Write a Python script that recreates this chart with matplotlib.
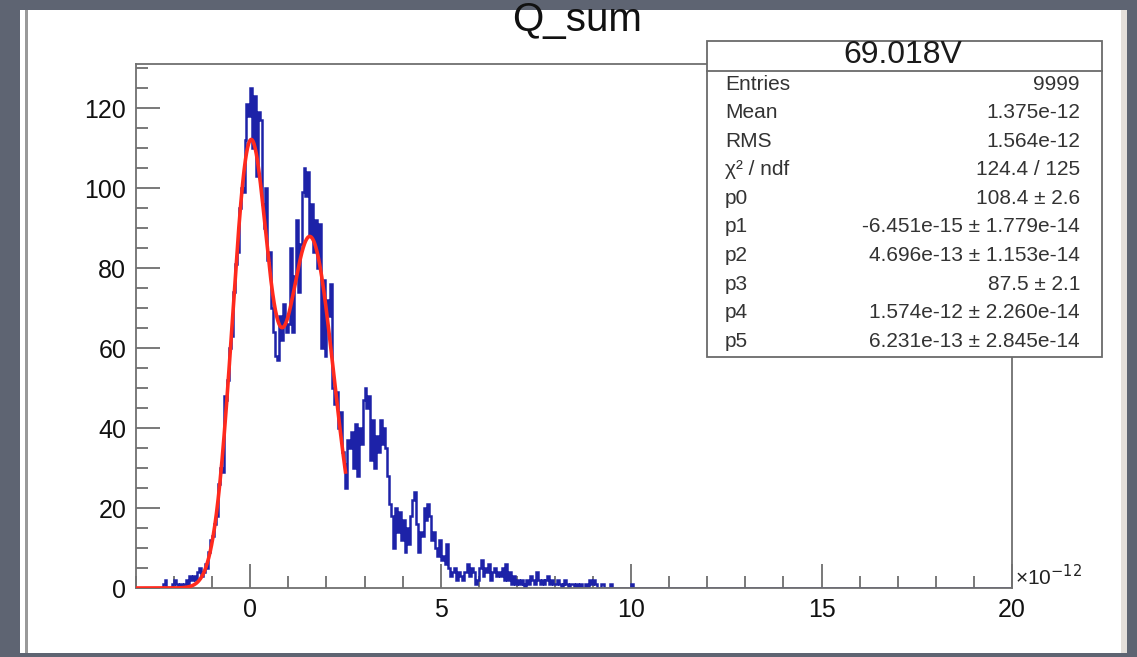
import numpy as np
import matplotlib
matplotlib.use("Agg")
import matplotlib.pyplot as plt
from matplotlib.patches import Rectangle
from matplotlib.ticker import MultipleLocator

plt.rcParams['font.family'] = ['Liberation Sans', 'DejaVu Sans']

W, H = 1137, 657

# histogram: bins of 0.05 (x 1e-12) from -3 to 20, counts
x_low, x_high, bin_w = -3.0, 20.0, 0.05
counts_read = (
    [0] * 10 +                                    # -3.0 .. -2.5
    [0, 0, 0, 0, 1, 2, 0, 0, 0, 1] +              # -2.5 .. -2.0
    [2, 1, 0, 1, 0, 1, 2, 1, 3, 2] +              # -2.0 .. -1.5
    [3, 2, 4, 5, 3, 4, 6, 5, 9, 12] +             # -1.5 .. -1.0
    [13, 16, 18, 26, 30, 29, 48, 47, 52, 60] +    # -1.0 .. -0.5
    [63, 74, 81, 84, 95, 100, 99, 112, 121, 118] +
    [125, 110, 123, 103, 119, 117, 96, 90, 100, 82] +
    [84, 70, 64, 58, 57, 68, 62, 71, 66, 64] +
    [66, 85, 64, 78, 92, 74, 86, 99, 105, 98] +
    [104, 88, 96, 84, 92, 80, 91, 60, 77, 58] +
    [72, 68, 76, 50, 46, 49, 40, 44, 34, 31] +
    [25, 37, 35, 39, 30, 41, 28, 40, 36, 47] +
    [50, 45, 48, 32, 42, 30, 38, 34, 42, 36] +
    [40, 35, 28, 21, 18, 10, 20, 14, 19, 12] +
    [17, 9, 15, 11, 18, 22, 24, 16, 9, 14] +
    [13, 20, 17, 21, 18, 12, 14, 10, 8, 12] +
    [7, 8, 6, 11, 5, 3, 4, 5, 2, 4] +
    [3, 2, 4, 4, 6, 3, 5, 4, 1, 2] +
    [5, 7, 3, 5, 4, 6, 2, 4, 5, 3] +
    [4, 3, 5, 2, 6, 2, 4, 1, 3, 1] +
    [2, 1, 2, 1, 0, 2, 1, 3, 2, 1] +
    [4, 2, 1, 2, 1, 2, 3, 1, 2, 1] +
    [1, 2, 1, 0, 1, 2, 1, 0, 1, 1] +
    [0, 1, 0, 1, 0, 0, 1, 0, 2, 1] +
    [2, 1, 0, 0, 1, 1, 0, 0, 0, 1] +
    [0] * 10 +
    [1, 0, 0, 0, 0, 0, 0, 0, 0, 0]
)

# fit parameters (double gaussian), x in units of 1e-12
p0, p1, p2 = 108.4, -0.006451, 0.4696
p3, p4, p5 = 87.5, 1.574, 0.6231
fit_low, fit_high = -3.0, 2.5

stat_names = ["Entries", "Mean", "RMS", "χ² / ndf", "p0", "p1", "p2", "p3", "p4", "p5"]
stat_values = ["9999", "1.375e-12", "1.564e-12", "124.4 / 125", "108.4 ± 2.6",
               "-6.451e-15 ± 1.779e-14", "4.696e-13 ± 1.153e-14", "87.5 ± 2.1",
               "1.574e-12 ± 2.260e-14", "6.231e-13 ± 2.845e-14"]

y_ticks = [0, 20, 40, 60, 80, 100, 120]
x_ticks = [0, 5, 10, 15, 20]


def fx(px):
    return px / W


def fy(py):
    return 1 - py / H


fig = plt.figure(figsize=(W / 100, H / 100), dpi=100)
fig.patch.set_facecolor('#5e6472')

# white canvas
fig.add_artist(Rectangle((fx(20), fy(653)), fx(1127) - fx(20), fy(10) - fy(653),
                         transform=fig.transFigure, facecolor='white', edgecolor='none', zorder=0))
fig.add_artist(Rectangle((fx(25), fy(653)), fx(3), fy(10) - fy(653),
                         transform=fig.transFigure, facecolor='#9a9a9a', edgecolor='none', zorder=0))
fig.add_artist(Rectangle((fx(1121), fy(653)), fx(6), fy(10) - fy(653),
                         transform=fig.transFigure, facecolor='#e4dfda', edgecolor='none', zorder=0))

ax = fig.add_axes([fx(136), fy(588), fx(1012) - fx(136), fy(64) - fy(588)])
ax.set_facecolor('white')

counts = np.zeros(int(round((x_high - x_low) / bin_w)))
counts[:len(counts_read)] = counts_read
edges = np.linspace(x_low, x_high, len(counts) + 1)
ax.stairs(counts, edges, color='#1d22a8', lw=1.8, zorder=2)

xf = np.linspace(fit_low, fit_high, 600)
yf = p0 * np.exp(-0.5 * ((xf - p1) / p2) ** 2) + p3 * np.exp(-0.5 * ((xf - p4) / p5) ** 2)
ax.plot(xf, yf, color='#ff2a1e', lw=2.6, zorder=3)

ax.set_xlim(x_low, x_high)
ax.set_ylim(0, 131)
ax.set_xticks(x_ticks)
ax.set_yticks(y_ticks)
ax.xaxis.set_minor_locator(MultipleLocator(1))
ax.yaxis.set_minor_locator(MultipleLocator(5))
ax.tick_params(which='both', direction='in', color='#6e6e6e', width=1.3,
               top=False, right=False, labelsize=18, labelcolor='#111111')
ax.tick_params(which='major', length=17, pad=7)
ax.tick_params(which='minor', length=8.5)
for s in ax.spines.values():
    s.set_color('#707070')
    s.set_linewidth(1.3)

fig.text(fx(1015), fy(577), "×10$^{-12}$", fontsize=15, color='#222222',
         ha='left', va='center')

# title
fig.text(fx(577), fy(20), "Q_sum", fontsize=29, color='#111111', ha='center', va='center')

# stats box
fig.add_artist(Rectangle((fx(707), fy(357)), fx(1102) - fx(707), fy(41) - fy(357),
                         transform=fig.transFigure, facecolor='white', edgecolor='#6a6a6a',
                         lw=1.3, zorder=5))
fig.add_artist(plt.Line2D([fx(707), fx(1102)], [fy(71), fy(71)], transform=fig.transFigure,
                          color='#6a6a6a', lw=1.3, zorder=6))
fig.text(fx(903), fy(55), "69.018V", fontsize=23, color='#1a1a1a', ha='center', va='center',
         zorder=7)
for i, (name, val) in enumerate(zip(stat_names, stat_values)):
    yy = 84 + i * 28.6
    fig.text(fx(725), fy(yy), name, fontsize=15, color='#333333', ha='left', va='center',
             zorder=7)
    fig.text(fx(1080), fy(yy), val, fontsize=15, color='#333333', ha='right', va='center',
             zorder=7)

fig.savefig("out.png", dpi=100, facecolor=fig.get_facecolor())
